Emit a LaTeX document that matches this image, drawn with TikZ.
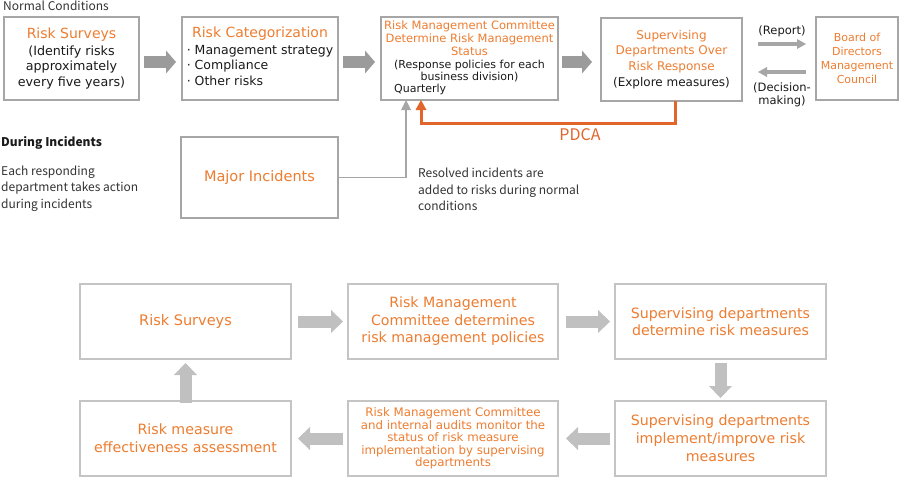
\documentclass[tikz,border=0pt]{standalone}
\usepackage{fontspec}
\setmainfont{DejaVu Sans}
\newfontfamily\jpfont{Noto Sans CJK JP}
\usetikzlibrary{arrows.meta}
\definecolor{orng}{HTML}{ED7D31}
\definecolor{pdcaor}{HTML}{E2652C}
\definecolor{boxgray}{HTML}{A6A6A6}
\definecolor{lboxgray}{HTML}{C4C4C4}
\definecolor{arrgray}{HTML}{9B9B9B}
\definecolor{larrgray}{HTML}{C0C0C0}
\definecolor{txt}{HTML}{1A1A1A}
\definecolor{sidetxt}{HTML}{333333}
\begin{document}
\begin{tikzpicture}[x=1pt,y=-1pt,
 box/.style={draw=boxgray, line width=1.3pt, inner sep=0pt, outer sep=0pt, align=center, text=txt},
 lbox/.style={draw=lboxgray, line width=1.5pt, inner sep=0pt, outer sep=0pt, align=center, text=orng, minimum height=75pt},
 blk/.style={draw=arrgray, line width=12pt, -{Triangle[length=10pt,width=23pt,line width=0pt]}},
 lblk/.style={draw=larrgray, line width=12pt, -{Triangle[length=12pt,width=23pt,line width=0pt]}},
 thinarr/.style={draw=boxgray, line width=3.2pt, -{Triangle[length=9pt,width=10pt,line width=0pt]}},
 inc/.style={draw=boxgray, line width=1.8pt, -{Triangle[length=10pt,width=10pt,line width=0pt]}},
 pdca/.style={draw=pdcaor, line width=3pt, line join=miter, -{Triangle[length=10pt,width=11pt,line width=0pt]}},
 side/.style={font=\jpfont\fontsize{12}{16.5}\selectfont, text=sidetxt, inner sep=0pt, anchor=west, align=left},
 small/.style={font=\fontsize{11.5}{13}\selectfont, text=txt, inner sep=0pt, align=center}
]
\fill[white] (0,0) rectangle (900,477);
\useasboundingbox (0,0) rectangle (900,477);

% ---------- top row ----------
\node[side] (nc) at (3,6) {Normal Conditions};

\node[box, minimum width=135pt, minimum height=83pt, font=\fontsize{12.7}{15.5}\selectfont] (b1) at (71.5,58.5)
 {{\fontsize{14}{17}\selectfont\textcolor{orng}{Risk Surveys}}\\[1pt](Identify risks\\approximately\\every five years)};

\node[box, minimum width=156pt, minimum height=83pt, font=\fontsize{12.5}{15.5}\selectfont] (b2) at (260,58.5)
 {\begin{tabular}{@{}l@{}}\multicolumn{1}{@{}c@{}}{\fontsize{14}{17}\selectfont\textcolor{orng}{Risk Categorization}}\\[1pt]
 · Management strategy\\ · Compliance\\ · Other risks\end{tabular}};

\node[box, minimum width=177pt, minimum height=83pt, font=\fontsize{11.5}{13}\selectfont] (b3) at (469.5,58.5)
 {\textcolor{orng}{Risk Management Committee}\\\textcolor{orng}{Determine Risk Management}\\\textcolor{orng}{Status}\\
 {\fontsize{11}{11.5}\selectfont\begin{tabular}[t]{@{}l@{}}(Response policies for each\\\multicolumn{1}{@{}c@{}}{business division)}\\Quarterly\end{tabular}}};

\node[box, minimum width=141pt, minimum height=83pt, font=\fontsize{12}{15.7}\selectfont] (b4) at (671.5,59.5)
 {\textcolor{orng}{Supervising}\\\textcolor{orng}{Departments Over}\\\textcolor{orng}{Risk Response}\\(Explore measures)};

\node[box, minimum width=82pt, minimum height=83pt, font=\fontsize{11}{14}\selectfont, text=orng] (b5) at (857,58.5)
 {Board of\\Directors\\Management\\Council};

\draw[blk] ([yshift=-3.5pt,xshift=5pt]b1.east) -- ([yshift=-3.5pt,xshift=-6pt]b2.west);
\draw[blk] ([yshift=-3.5pt,xshift=5pt]b2.east) -- ([yshift=-3.5pt,xshift=-6pt]b3.west);
\draw[blk] ([yshift=-3.5pt,xshift=4pt]b3.east) -- ([yshift=-2.5pt,xshift=-9pt]b4.west);

\draw[thinarr] ([yshift=15.5pt,xshift=16pt]b4.east) -- ([yshift=14.5pt,xshift=-10pt]b5.west);
\draw[thinarr] ([yshift=-13.5pt,xshift=-10pt]b5.west) -- ([yshift=-12.5pt,xshift=16pt]b4.east);
\node[small] (rep) at (782,31) {(Report)};
\node[small] (dec) at (782,94.5) {(Decision-\\making)};

% ---------- incidents ----------
\node[side, font=\jpfont\bfseries\fontsize{12}{16.5}\selectfont, text=txt] (di) at (1,143) {During Incidents};
\node[side] (ea) at (1,188.5) {Each responding\\department takes action\\during incidents};

\node[box, minimum width=157pt, minimum height=81pt, font=\fontsize{14.5}{17}\selectfont, text=orng] (mi) at (259.5,177.5) {Major Incidents};

\draw[inc] (mi.east) -| ([xshift=-63.5pt]b3.south);
\draw[pdca] ([xshift=3.5pt]b4.south) |- ([xshift=-48.5pt,yshift=-23pt]b3.south) -- ([xshift=-48.5pt]b3.south);
\node[font=\jpfont\fontsize{16}{18}\selectfont, text=pdcaor, inner sep=0pt] (pd) at (580,135) {PDCA};

\node[side] (res) at (418,189.5) {Resolved incidents are\\added to risks during normal\\conditions};

% ---------- bottom cycle ----------
\node[lbox, minimum width=211pt, font=\fontsize{14.5}{17.5}\selectfont] (r1) at (185.5,321.5) {Risk Surveys};
\node[lbox, minimum width=210pt, font=\fontsize{14.2}{17.5}\selectfont] (r2) at (453,321.5) {Risk Management\\Committee determines\\risk management policies};
\node[lbox, minimum width=211pt, font=\fontsize{14.2}{17.5}\selectfont] (r3) at (720.5,321.5) {Supervising departments\\determine risk measures};
\node[lbox, minimum width=211pt, font=\fontsize{14.2}{18}\selectfont] (r4) at (185.5,438.5) {Risk measure\\effectiveness assessment};
\node[lbox, minimum width=210pt, font=\fontsize{11.8}{12.5}\selectfont] (r5) at (453,438.5) {Risk Management Committee\\and internal audits monitor the\\status of risk measure\\implementation by supervising\\departments};
\node[lbox, minimum width=211pt, font=\fontsize{14.2}{18}\selectfont] (r6) at (720.5,438.5) {Supervising departments\\implement/improve risk\\measures};

\draw[lblk] ([xshift=7pt]r1.east) -- ([xshift=-5pt]r2.west);
\draw[lblk] ([xshift=8pt]r2.east) -- ([xshift=-5pt]r3.west);
\draw[lblk] ([yshift=-4pt]r3.south) -- ([yshift=3pt]r6.north);
\draw[lblk] ([xshift=-5pt]r6.west) -- ([xshift=8pt]r5.east);
\draw[lblk] ([xshift=-5pt]r5.west) -- ([xshift=7pt]r4.east);
\draw[lblk] ([yshift=-2pt]r4.north) -- ([yshift=-4pt]r1.south);
\end{tikzpicture}
\end{document}
